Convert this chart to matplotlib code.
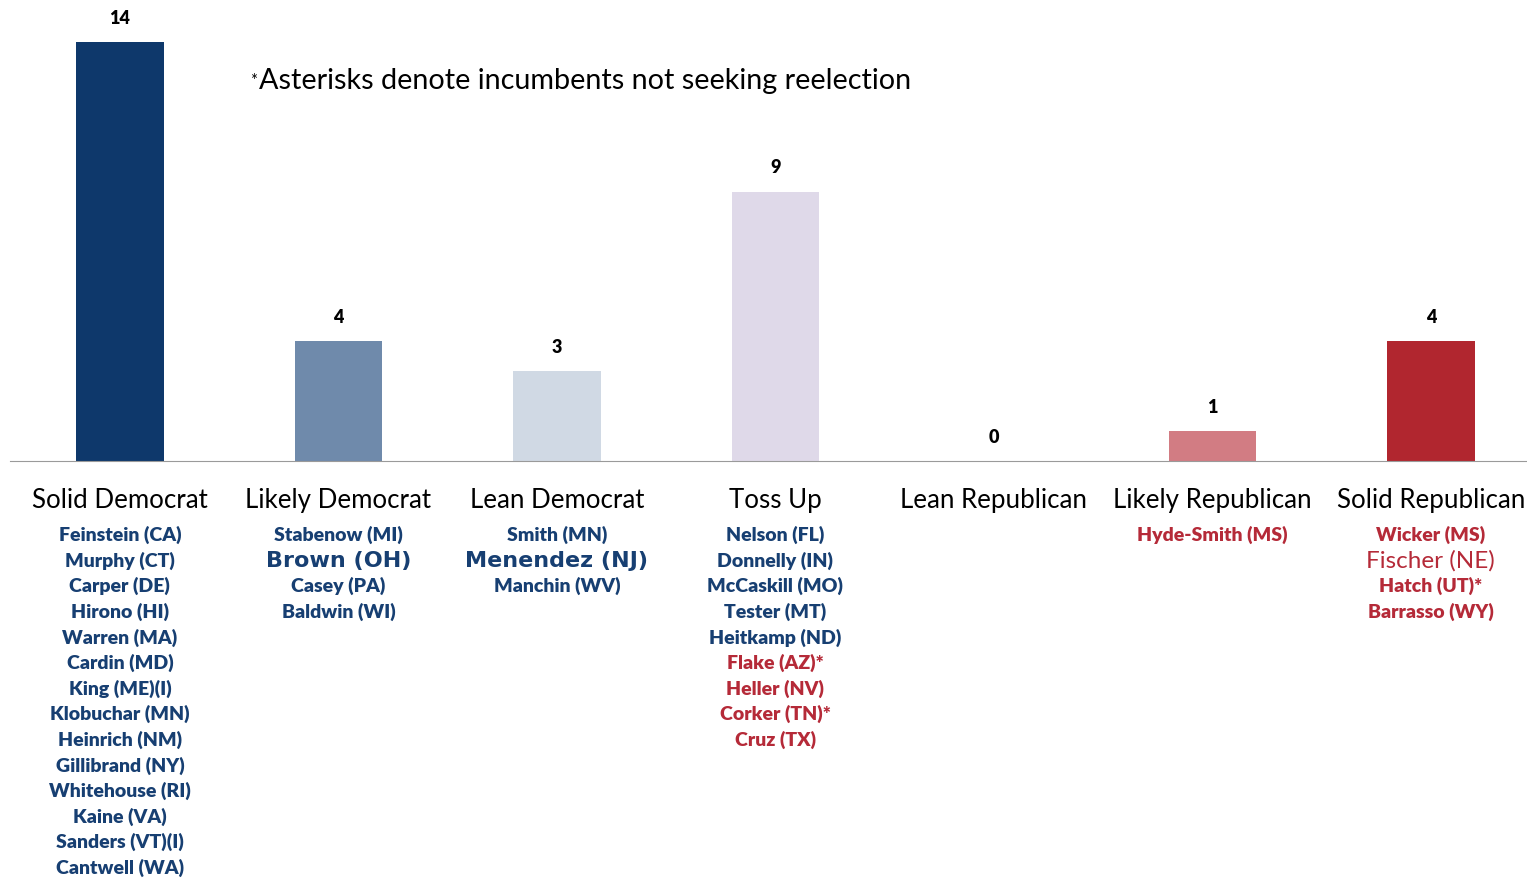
import matplotlib.pyplot as plt
from matplotlib.transforms import blended_transform_factory

categories = ["Solid Democrat", "Likely Democrat", "Lean Democrat", "Toss Up",
              "Lean Republican", "Likely Republican", "Solid Republican"]
counts = [14, 4, 3, 9, 0, 1, 4]

# senators per rating, party letter used for colour
senators = [
    [("Feinstein (CA)", "D"), ("Murphy (CT)", "D"), ("Carper (DE)", "D"), ("Hirono (HI)", "D"),
     ("Warren (MA)", "D"), ("Cardin (MD)", "D"), ("King (ME)(I)", "D"), ("Klobuchar (MN)", "D"),
     ("Heinrich (NM)", "D"), ("Gillibrand (NY)", "D"), ("Whitehouse (RI)", "D"),
     ("Kaine (VA)", "D"), ("Sanders (VT)(I)", "D"), ("Cantwell (WA)", "D")],
    [("Stabenow (MI)", "D"), ("Brown (OH)", "D"), ("Casey (PA)", "D"), ("Baldwin (WI)", "D")],
    [("Smith (MN)", "D"), ("Menendez (NJ)", "D"), ("Manchin (WV)", "D")],
    [("Nelson (FL)", "D"), ("Donnelly (IN)", "D"), ("McCaskill (MO)", "D"), ("Tester (MT)", "D"),
     ("Heitkamp (ND)", "D"), ("Flake (AZ)*", "R"), ("Heller (NV)", "R"), ("Corker (TN)*", "R"),
     ("Cruz (TX)", "R")],
    [],
    [("Hyde-Smith (MS)", "R")],
    [("Wicker (MS)", "R"), ("Fischer (NE)", "R"), ("Hatch (UT)*", "R"), ("Barrasso (WY)", "R")],
]
wide_bold = ["Brown (OH)", "Menendez (NJ)"]
plain_large = ["Fischer (NE)"]

bar_colors = ["#0E386B", "#6F8AAB", "#D0D9E4", "#DFD9E9", "#FFFFFF", "#D27C83", "#B1262F"]
party_color = {"D": "#173F72", "R": "#B52A38"}
base_font = ["Lato", "DejaVu Sans"]

fig = plt.figure(figsize=(15.27, 8.79), dpi=100)
ax = fig.add_axes([10 / 1527, 1 - 462 / 879, 1517 / 1527, 462 / 879])

x = list(range(len(categories)))
ax.bar(x, counts, width=0.40, color=bar_colors)
for xi, c in zip(x, counts):
    ax.text(xi, c + 0.55, str(c), ha="center", va="bottom", fontsize=13,
            fontweight="heavy", family=base_font)

ax.set_xlim(-0.503, 6.44)
ax.set_ylim(0, 15.44)
for s in ["top", "right", "left"]:
    ax.spines[s].set_visible(False)
ax.spines["bottom"].set_color("#9A9A9A")
ax.set_xticks([])
ax.set_yticks([])

trans = blended_transform_factory(ax.transData, ax.transAxes)
step = 25.6 / 462
for xi, cat in zip(x, categories):
    ax.text(xi, -0.083, cat, transform=trans, ha="center", va="center",
            fontsize=18.6, family=base_font)
    for j, (name, party) in enumerate(senators[xi]):
        y = -0.158 - j * step
        if name in wide_bold:
            ax.text(xi, y, name, transform=trans, ha="center", va="center",
                    fontsize=16, fontweight="bold", family="DejaVu Sans",
                    color=party_color[party])
        elif name in plain_large:
            ax.text(xi, y, name, transform=trans, ha="center", va="center",
                    fontsize=17.5, family=base_font, color=party_color[party])
        else:
            ax.text(xi, y, name, transform=trans, ha="center", va="center",
                    fontsize=14, fontweight="heavy", family=base_font,
                    color=party_color[party])

fig.text(250 / 1527, 1 - 81 / 879, "*", fontsize=12, family=base_font, va="center")
fig.text(259 / 1527, 1 - 81 / 879, "Asterisks denote incumbents not seeking reelection",
         fontsize=20.7, family=base_font, va="center")

fig.savefig("out.png", dpi=100)
